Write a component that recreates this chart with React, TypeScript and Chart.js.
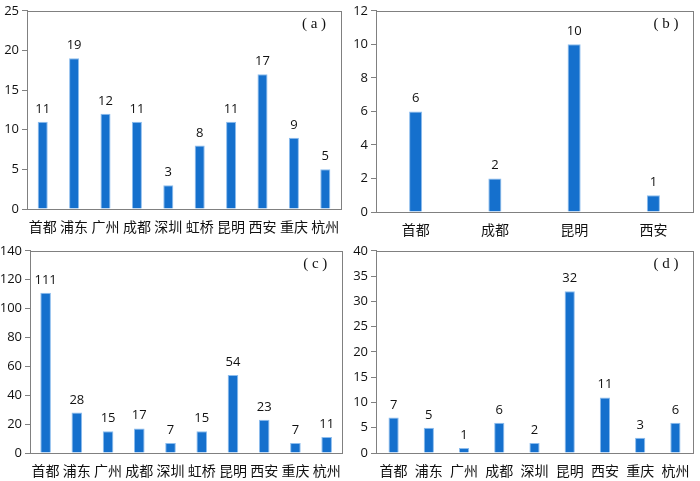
import React, { useEffect, useRef } from "react";
import { Chart, registerables } from "chart.js";

Chart.register(...registerables);

const catsA = ["首都", "浦东", "广州", "成都", "深圳", "虹桥", "昆明", "西安", "重庆", "杭州"];
const valsA = [11, 19, 12, 11, 3, 8, 11, 17, 9, 5];
const catsB = ["首都", "成都", "昆明", "西安"];
const valsB = [6, 2, 10, 1];
const catsC = ["首都", "浦东", "广州", "成都", "深圳", "虹桥", "昆明", "西安", "重庆", "杭州"];
const valsC = [111, 28, 15, 17, 7, 15, 54, 23, 7, 11];
const catsD = ["首都", "浦东", "广州", "成都", "深圳", "昆明", "西安", "重庆", "杭州"];
const valsD = [7, 5, 1, 6, 2, 32, 11, 3, 6];

const BAR = "#1570cd";
const BAR_EDGE = "#8dbdee";
const FRAME = "#808080";
const TEXT = "#111111";
const NUM_FONT = "'Open Sans', 'DejaVu Sans', sans-serif";
const CJK_FONT = "'Noto Sans CJK SC', sans-serif";

type PanelProps = {
  cats: string[];
  vals: number[];
  max: number;
  step: number;
  label: string;
  left: number;
  top: number;
  width: number;
  height: number;
  yWidth: number;
  xHeight: number;
  padTop: number;
  padRight: number;
  barPct: number;
};

function Panel(p: PanelProps) {
  const ref = useRef<HTMLCanvasElement | null>(null);
  useEffect(() => {
    if (!ref.current) return;
    const framePlugin = {
      id: "frame",
      afterDraw(chart: any) {
        const { ctx, chartArea } = chart;
        ctx.save();
        ctx.strokeStyle = FRAME;
        ctx.lineWidth = 1;
        ctx.strokeRect(
          Math.round(chartArea.left) + 0.5,
          Math.round(chartArea.top) + 0.5,
          Math.round(chartArea.right - chartArea.left),
          Math.round(chartArea.bottom - chartArea.top)
        );
        const meta = chart.getDatasetMeta(0);
        ctx.fillStyle = TEXT;
        ctx.font = `13px ${NUM_FONT}`;
        ctx.textAlign = "center";
        ctx.textBaseline = "alphabetic";
        meta.data.forEach((bar: any, i: number) => {
          ctx.fillText(String(chart.data.datasets[0].data[i]), bar.x, bar.y - 9);
        });
        ctx.font = `15px 'Liberation Serif', 'DejaVu Serif', serif`;
        ctx.textAlign = "center";
        ctx.textBaseline = "middle";
        ctx.fillText(p.label, chartArea.right - 27, chartArea.top + 13);
        ctx.restore();
      },
    };
    const chart = new Chart(ref.current, {
      type: "bar",
      data: {
        labels: p.cats,
        datasets: [
          {
            data: p.vals,
            backgroundColor: BAR,
            borderColor: BAR_EDGE,
            borderWidth: { left: 1, right: 1, top: 1, bottom: 0 },
            borderSkipped: "bottom",
            categoryPercentage: 1,
            barPercentage: p.barPct,
          },
        ],
      },
      options: {
        animation: false,
        responsive: false,
        maintainAspectRatio: false,
        devicePixelRatio: 1,
        layout: { padding: { top: p.padTop, right: p.padRight, left: 0, bottom: 0 } },
        plugins: { legend: { display: false }, tooltip: { enabled: false }, title: { display: false } },
        scales: {
          x: {
            grid: { display: false, drawTicks: false },
            border: { display: false },
            ticks: {
              color: TEXT,
              font: { family: CJK_FONT, size: 14 },
              padding: 9,
              maxRotation: 0,
              autoSkip: false,
            },
            afterFit(scale: any) {
              scale.height = p.xHeight;
            },
          },
          y: {
            min: 0,
            max: p.max,
            grid: { drawOnChartArea: false, drawTicks: true, tickLength: 5, color: FRAME },
            border: { display: true, color: FRAME },
            ticks: {
              stepSize: p.step,
              color: TEXT,
              font: { family: NUM_FONT, size: 13 },
              padding: 3,
            },
            afterFit(scale: any) {
              scale.width = p.yWidth;
            },
          },
        },
      },
      plugins: [framePlugin],
    } as any);
    return () => chart.destroy();
  }, []);
  return (
    <canvas
      ref={ref}
      width={p.width}
      height={p.height}
      style={{ position: "absolute", left: p.left, top: p.top, width: p.width, height: p.height }}
    />
  );
}

export default function App() {
  return (
    <div style={{ position: "fixed", left: 0, top: 0, width: 700, height: 481, background: "#fff" }}>
      <Panel cats={catsA} vals={valsA} max={25} step={5} label="( a )" left={0} top={0} width={350} height={240}
        yWidth={27} xHeight={31} padTop={7} padRight={9} barPct={0.32} />
      <Panel cats={catsB} vals={valsB} max={12} step={2} label="( b )" left={350} top={0} width={350} height={240}
        yWidth={26} xHeight={28} padTop={8} padRight={7} barPct={0.165} />
      <Panel cats={catsC} vals={valsC} max={140} step={20} label="( c )" left={0} top={240} width={350} height={241}
        yWidth={30} xHeight={28} padTop={8} padRight={7} barPct={0.34} />
      <Panel cats={catsD} vals={valsD} max={40} step={5} label="( d )" left={350} top={240} width={350} height={241}
        yWidth={26} xHeight={28} padTop={9} padRight={7} barPct={0.29} />
    </div>
  );
}
